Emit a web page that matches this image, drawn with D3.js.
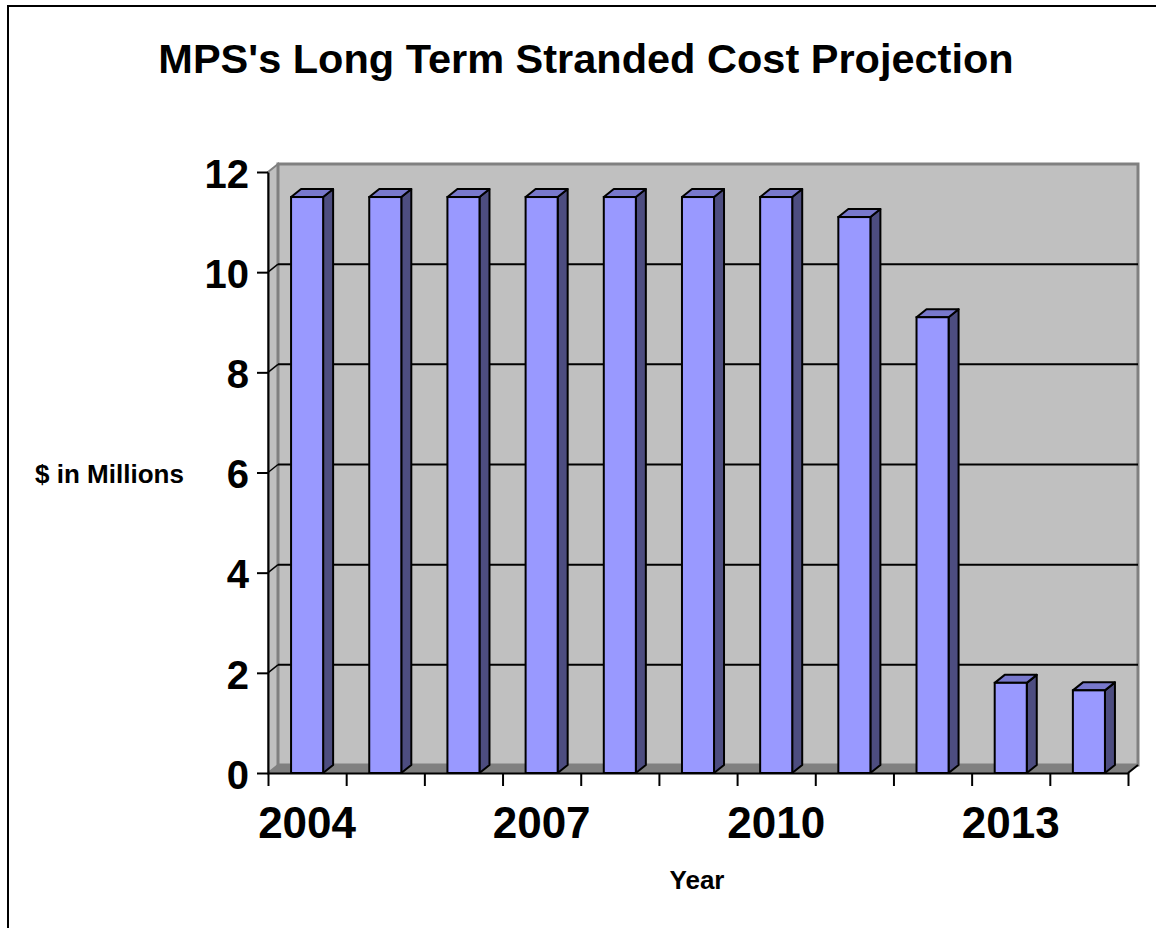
<!DOCTYPE html>
<html>
<head>
<meta charset="utf-8">
<script src="https://cdn.jsdelivr.net/npm/d3@7"></script>
<style>
  html, body { margin: 0; padding: 0; background: #fff; }
  svg { display: block; }
  text { font-family: "Liberation Sans", Arial, Helvetica, sans-serif; font-weight: bold; fill: #000; }
</style>
</head>
<body>
<svg id="chart" width="1156" height="928"></svg>
<script>
const years = [2004, 2005, 2006, 2007, 2008, 2009, 2010, 2011, 2012, 2013, 2014];
const values = [11.5, 11.5, 11.5, 11.5, 11.5, 11.5, 11.5, 11.1, 9.1, 1.8, 1.65];
const yTicks = [0, 2, 4, 6, 8, 10, 12];
const xLabelYears = [2004, 2007, 2010, 2013];
const title = "MPS's Long Term Stranded Cost Projection";
const yTitle = "$ in Millions";
const xTitle = "Year";

const svg = d3.select("#chart");
const X0 = 268, X1 = 1128, Y0 = 773, Y1 = 172;
const DX = 10, DY = -8;

const x = d3.scaleBand().domain(years).range([X0, X1]).paddingInner(0.59).paddingOuter(0.295);
const xi = d3.scaleLinear().domain([0, years.length]).range([X0, X1]);
const y = d3.scaleLinear().domain([0, 12]).range([Y0, Y1]);

// outer border
svg.append("rect").attr("x", 8).attr("y", 6).attr("width", 1200).attr("height", 1000)
  .attr("fill", "none").attr("stroke", "#000").attr("stroke-width", 2);

// title
svg.append("text").attr("x", 586).attr("y", 73).attr("text-anchor", "middle")
  .style("font-size", "41.5px").text(title);

// side wall
svg.append("path")
  .attr("d", `M${X0},${Y1} L${X0+DX},${Y1+DY} L${X0+DX},${Y0+DY} L${X0},${Y0} Z`)
  .attr("fill", "#c0c0c0").attr("stroke", "#808080").attr("stroke-width", 2);
// back wall
svg.append("rect").attr("x", X0+DX).attr("y", Y1+DY).attr("width", X1-X0).attr("height", Y0-Y1)
  .attr("fill", "#c0c0c0").attr("stroke", "#808080").attr("stroke-width", 3);
// floor
svg.append("path")
  .attr("d", `M${X0},${Y0} L${X0+DX},${Y0+DY} L${X1+DX},${Y0+DY} L${X1},${Y0} Z`)
  .attr("fill", "#808080").attr("stroke", "none");
svg.append("line").attr("x1", X1).attr("y1", Y0).attr("x2", X1+DX).attr("y2", Y0+DY)
  .attr("stroke", "#000").attr("stroke-width", 2);

// gridlines
const grid = yTicks.filter(v => v > 0 && v < 12);
svg.append("g").selectAll("line.g1").data(grid).join("line")
  .attr("x1", X0+DX).attr("x2", X1+DX)
  .attr("y1", d => y(d)+DY).attr("y2", d => y(d)+DY)
  .attr("stroke", "#000").attr("stroke-width", 2);
svg.append("g").selectAll("line.g2").data(grid).join("line")
  .attr("x1", X0).attr("x2", X0+DX)
  .attr("y1", d => y(d)).attr("y2", d => y(d)+DY)
  .attr("stroke", "#000").attr("stroke-width", 1.5);

// bars
const bars = svg.append("g").selectAll("g.bar").data(years.map((yr, i) => ({yr, v: values[i]}))).join("g");
bars.append("path") // side
  .attr("d", d => {
    const xr = x(d.yr) + x.bandwidth(), yt = y(d.v);
    return `M${xr},${Y0} L${xr},${yt} L${xr+DX},${yt+DY} L${xr+DX},${Y0+DY} Z`;
  })
  .attr("fill", "#4d4d80").attr("stroke", "#000").attr("stroke-width", 2).attr("stroke-linejoin", "round");
bars.append("path") // top
  .attr("d", d => {
    const xl = x(d.yr), xr = xl + x.bandwidth(), yt = y(d.v);
    return `M${xl},${yt} L${xl+DX},${yt+DY} L${xr+DX},${yt+DY} L${xr},${yt} Z`;
  })
  .attr("fill", "#7878cc").attr("stroke", "#000").attr("stroke-width", 2).attr("stroke-linejoin", "round");
bars.append("rect") // front
  .attr("x", d => x(d.yr)).attr("y", d => y(d.v))
  .attr("width", x.bandwidth()).attr("height", d => Y0 - y(d.v))
  .attr("fill", "#9999ff").attr("stroke", "#000").attr("stroke-width", 2);

// y axis
const yAxis = svg.append("g").attr("transform", `translate(${X0},0)`)
  .call(d3.axisLeft(y).tickValues(yTicks).tickSize(11).tickPadding(8).tickSizeOuter(0));
yAxis.select(".domain").attr("stroke", "#000").attr("stroke-width", 2);
yAxis.selectAll(".tick line").attr("stroke", "#000").attr("stroke-width", 2);
yAxis.selectAll(".tick text").style("font-size", "40px").style("font-family", "'Liberation Sans', Arial, sans-serif")
  .style("font-weight", "bold").attr("fill", "#000").attr("dy", "0.38em");

// x axis ticks
const xAxis = svg.append("g").attr("transform", `translate(0,${Y0})`)
  .call(d3.axisBottom(xi).tickValues(d3.range(0, years.length + 1)).tickSize(13).tickFormat("").tickSizeOuter(0));
xAxis.select(".domain").attr("stroke", "#000").attr("stroke-width", 2);
xAxis.selectAll(".tick line").attr("stroke", "#000").attr("stroke-width", 2);

// x labels
const xLab = svg.append("g").attr("transform", `translate(0,${Y0})`)
  .call(d3.axisBottom(x).tickValues(xLabelYears).tickSize(0).tickPadding(0));
xLab.select(".domain").remove();
xLab.selectAll(".tick text").attr("y", 65).attr("dy", 0)
  .style("font-size", "44px").style("font-family", "'Liberation Sans', Arial, sans-serif")
  .style("font-weight", "bold").attr("fill", "#000");

// axis titles
svg.append("text").attr("x", 109.5).attr("y", 483).attr("text-anchor", "middle")
  .style("font-size", "26px").text(yTitle);
svg.append("text").attr("x", 697).attr("y", 889).attr("text-anchor", "middle")
  .style("font-size", "26px").text(xTitle);
</script>
</body>
</html>
